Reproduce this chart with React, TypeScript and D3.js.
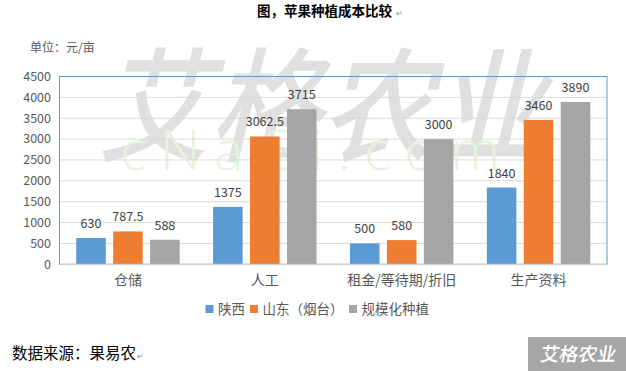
import React from "react";
import * as d3 from "d3";

const categories = ["仓储", "人工", "租金/等待期/折旧", "生产资料"];
const seriesNames = ["陕西", "山东（烟台）", "规模化种植"];
const shaanxi = [630, 1375, 500, 1840];
const shandong = [787.5, 3062.5, 580, 3460];
const scale = [588, 3715, 3000, 3890];
const yTicks = [0, 500, 1000, 1500, 2000, 2500, 3000, 3500, 4000, 4500];
const colors = ["#5B9BD5", "#ED7D31", "#A5A5A5"];

const W = 626;
const H = 371;
const plot = { left: 59.5, right: 607, top: 76.5, bottom: 264.3 };
const FONT = "'Noto Sans CJK SC', 'Noto Sans', sans-serif";

export default function App() {
  const seriesValues = [shaanxi, shandong, scale];
  const x0 = d3
    .scaleBand<string>()
    .domain(categories)
    .range([plot.left, plot.right])
    .paddingInner(0.244)
    .paddingOuter(0.122);
  const x1 = d3
    .scaleBand<string>()
    .domain(seriesNames)
    .range([0, x0.bandwidth()])
    .paddingInner(0.2);
  const y = d3.scaleLinear().domain([0, 4500]).range([plot.bottom, plot.top]);

  return (
    <svg
      width={W}
      height={H}
      style={{ position: "absolute", left: 0, top: 0, background: "#fff" }}
      fontFamily={FONT}
    >
      <rect x={0} y={0} width={W} height={H} fill="#fff" />
      {/* watermarks */}
      <text
        x={100}
        y={152}
        fontSize={124}
        fill="#e0e0e0"
        fontFamily="'Noto Sans CJK SC'"
        fontWeight={500}
        textLength={445}
        lengthAdjust="spacingAndGlyphs"
        transform="skewX(-14) translate(36,0)"
      >
        艾格农业
      </text>
      <text
        x={120}
        y={170}
        fontSize={56}
        fill="#e6f3e1"
        fontFamily="'Open Sans', sans-serif"
        fontWeight={300}
        textLength={380}
        lengthAdjust="spacing"
      >
        cNaGi.com
      </text>

      {/* title */}
      <text x={257} y={15.5} fontSize={13.5} fontWeight={700} fill="#000" fontFamily="'Noto Sans CJK SC'">
        图，苹果种植成本比较
      </text>
      <text x={396} y={15.5} fontSize={8} fill="#888">↵</text>

      {/* unit */}
      <text x={30} y={52} fontSize={12} fill="#595959">单位：元/亩</text>

      {/* grid */}
      {yTicks.map((t) => (
        <line
          key={t}
          x1={plot.left}
          x2={plot.right}
          y1={y(t)}
          y2={y(t)}
          stroke="#D9D9D9"
          strokeWidth={1}
        />
      ))}
      {yTicks.map((t) => (
        <text
          key={"l" + t}
          x={51}
          y={y(t)}
          dy="0.35em"
          fontSize={12.5}
          textAnchor="end"
          fill="#595959"
        >
          {t}
        </text>
      ))}

      {/* bars */}
      {categories.map((c, ci) => (
        <g key={c} transform={`translate(${x0(c)},0)`}>
          {seriesNames.map((s, si) => {
            const v = seriesValues[si][ci];
            const bx = x1(s)!;
            return (
              <g key={s}>
                <rect
                  x={bx}
                  y={y(v)}
                  width={x1.bandwidth()}
                  height={y(0) - y(v)}
                  fill={colors[si]}
                />
                <text
                  x={bx + x1.bandwidth() / 2}
                  y={y(v) - 10}
                  fontSize={12.5}
                  textAnchor="middle"
                  fill="#404040"
                >
                  {v}
                </text>
              </g>
            );
          })}
        </g>
      ))}

      {/* frame */}
      <rect
        x={plot.left}
        y={plot.top}
        width={plot.right - plot.left}
        height={plot.bottom - plot.top}
        fill="none"
        stroke="#5B9BD5"
        strokeWidth={1}
      />
      <line x1={plot.left} x2={plot.right} y1={plot.bottom} y2={plot.bottom} stroke="#D9D9D9" />

      {/* category labels */}
      {categories.map((c) => (
        <text
          key={c}
          x={x0(c)! + x0.bandwidth() / 2}
          y={285}
          fontSize={14}
          textAnchor="middle"
          fill="#595959"
        >
          {c}
        </text>
      ))}

      {/* legend */}
      {(() => {
        const xs = [205.5, 250, 349];
        return seriesNames.map((s, i) => (
          <g key={s}>
            <rect x={xs[i]} y={305} width={8} height={8} fill={colors[i]} />
            <text x={xs[i] + 12.5} y={314} fontSize={13.5} fill="#595959">
              {s}
            </text>
          </g>
        ));
      })()}

      {/* source */}
      <text x={12} y={359} fontSize={15.5} fill="#000">数据来源：果易农</text>
      <text x={137} y={359} fontSize={8} fill="#888">↵</text>

      {/* logo */}
      <rect x={528} y={337} width={98} height={34} fill="#a6a6a6" />
      <text x={577} y={361} fontSize={19} fill="#fff" textAnchor="middle" fontFamily="'Noto Sans CJK SC'" fontWeight={500} transform="skewX(-10) translate(64,0)">
        艾格农业
      </text>
    </svg>
  );
}
